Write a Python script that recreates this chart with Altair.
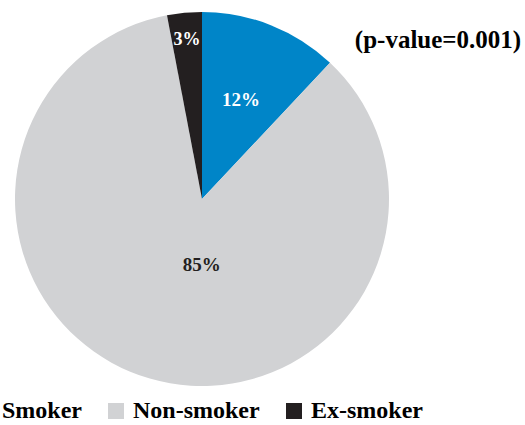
import altair as alt
import pandas as pd

categories = ["Smoker", "Non-smoker", "Ex-smoker"]
values = [12, 85, 3]
labels = ["12%", "85%", "3%"]
colors = ["#0085C8", "#D1D2D4", "#231F20"]

df = pd.DataFrame({"category": categories, "value": values, "label": labels,
                   "order": [0, 1, 2]})

CX, CY, R = 202, 199, 187
total = sum(values)

pie = alt.Chart(df).mark_arc(radius=R, stroke=None).encode(
    theta=alt.Theta("value:Q", stack=True, scale=alt.Scale(domain=[0, total])),
    order=alt.Order("order:Q"),
    x=alt.value(CX),
    y=alt.value(CY),
    color=alt.Color(
        "category:N",
        scale=alt.Scale(domain=categories, range=colors),
        sort=categories,
        legend=alt.Legend(
            title=None,
            orient="none",
            direction="horizontal",
            legendX=-27,
            legendY=399,
            symbolType="square",
            symbolSize=256,
            symbolStrokeWidth=0,
            labelFont="Liberation Serif",
            labelFontWeight="bold",
            labelFontSize=24,
            labelColor="black",
            labelOffset=5,
            columnPadding=22,
            labelLimit=300,
        ),
    ),
)

stacked = alt.Chart(df).transform_stack(
    stack="value", groupby=[], as_=["v0", "v1"],
    sort=[alt.SortField("order", order="ascending")],
).transform_calculate(mid="(datum.v0 + datum.v1) / 2")


def lab(cat, r, color, dx=0, dy=0, size=19):
    return stacked.transform_filter(alt.datum.category == cat).mark_text(
        radius=r, font="Liberation Serif", fontWeight="bold", fontSize=size,
        color=color, dx=dx, dy=dy, align="center", baseline="middle"
    ).encode(
        theta=alt.Theta("mid:Q", scale=alt.Scale(domain=[0, total])),
        x=alt.value(CX),
        y=alt.value(CY),
        text="label:N",
    )

t12 = lab("Smoker", 106, "white")
t85 = lab("Non-smoker", 69, "#231F20", dx=19)
t3 = lab("Ex-smoker", 160, "white", dx=0, size=18)

pv = alt.Chart(pd.DataFrame({"t": ["(p-value=0.001)"]})).mark_text(
    font="Liberation Serif", fontWeight="bold", fontSize=25, color="black",
    align="center", baseline="middle"
).encode(text="t:N", x=alt.value(438), y=alt.value(40))

chart = alt.layer(pie, t12, t85, t3, pv).properties(
    width=525, height=425,
    autosize=alt.AutoSizeParams(type="none"),
    padding=0,
).resolve_scale(theta="independent").configure_view(stroke=None)

chart.save("out.html", embed_options={"renderer": "svg", "actions": False})
